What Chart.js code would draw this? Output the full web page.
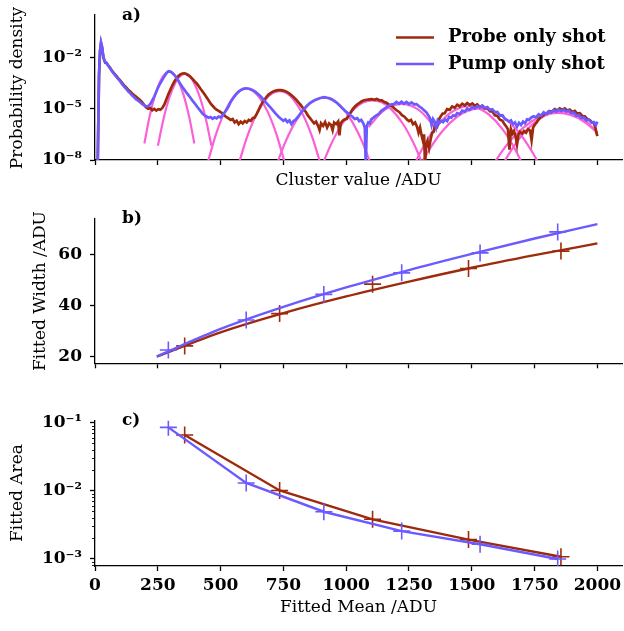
<!DOCTYPE html>
<html>
<head>
<meta charset="utf-8">
<script src="https://cdn.jsdelivr.net/npm/chart.js@4.4.1/dist/chart.umd.min.js"></script>
<style>
  html, body { margin: 0; padding: 0; background: #fff; }
  #wrap { position: relative; width: 624px; height: 631px; overflow: hidden; }
  canvas { position: absolute; left: 0; }
</style>
</head>
<body>
<div id="wrap">
  <canvas id="chartA" width="624" height="200" style="top:0px"></canvas>
  <canvas id="chartB" width="624" height="200" style="top:200px"></canvas>
  <canvas id="chartC" width="624" height="231" style="top:400px"></canvas>
</div>
<script>
// ---- panel a: histograms, [cluster value, log10 probability density] ----
const probeHist = [[10,-9.0],[16,-3.1],[20,-1.65],[24,-1.15],[28,-1.4],[32,-1.85],[36,-2.12],[41,-2.3],[46,-2.32],[52,-2.45],[60,-2.6],[68,-2.78],[76,-2.92],[84,-3.06],[92,-3.2],[100,-3.33],[108,-3.48],[116,-3.62],[124,-3.75],[132,-3.88],[140,-3.98],[148,-4.1],[156,-4.2],[164,-4.3],[172,-4.4],[180,-4.5],[188,-4.62],[196,-4.78],[204,-4.92],[212,-5.0],[220,-4.95],[228,-5.08],[236,-5.0],[244,-5.1],[252,-5.02],[260,-5.05],[268,-4.95],[276,-4.75],[284,-4.45],[292,-4.15],[300,-3.88],[308,-3.62],[316,-3.4],[324,-3.22],[332,-3.08],[340,-2.98],[348,-2.93],[356,-2.92],[364,-2.96],[372,-3.03],[380,-3.12],[388,-3.24],[396,-3.38],[404,-3.5],[412,-3.65],[420,-3.82],[428,-3.98],[436,-4.15],[444,-4.32],[452,-4.5],[460,-4.68],[468,-4.82],[476,-4.95],[484,-5.05],[492,-5.12],[500,-5.2],[510,-5.3],[520,-5.45],[530,-5.55],[540,-5.65],[548,-5.6],[556,-5.8],[564,-5.7],[572,-5.9],[580,-5.75],[588,-5.85],[596,-5.72],[604,-5.8],[612,-5.65],[620,-5.7],[628,-5.55],[636,-5.5],[644,-5.3],[652,-5.05],[660,-4.8],[670,-4.55],[680,-4.35],[690,-4.18],[700,-4.06],[710,-3.98],[720,-3.93],[730,-3.9],[740,-3.9],[750,-3.93],[760,-3.98],[770,-4.06],[780,-4.18],[790,-4.3],[800,-4.45],[810,-4.62],[820,-4.8],[830,-5.0],[840,-5.2],[848,-5.4],[856,-5.55],[864,-5.7],[872,-5.85],[880,-5.75],[888,-6.0],[894,-6.25],[900,-5.85],[908,-6.0],[916,-5.78],[924,-6.1],[932,-5.85],[940,-5.95],[946,-6.25],[952,-5.8],[960,-5.9],[968,-5.75],[973,-6.55],[978,-5.85],[986,-5.7],[994,-5.62],[1002,-5.6],[1010,-5.4],[1018,-5.2],[1026,-5.02],[1034,-4.88],[1042,-4.77],[1052,-4.66],[1062,-4.56],[1072,-4.5],[1082,-4.47],[1092,-4.45],[1102,-4.43],[1112,-4.47],[1122,-4.42],[1132,-4.5],[1142,-4.5],[1152,-4.6],[1162,-4.66],[1172,-4.78],[1182,-4.84],[1192,-4.98],[1202,-5.1],[1212,-5.2],[1222,-5.37],[1232,-5.46],[1242,-5.63],[1250,-5.72],[1258,-5.65],[1266,-5.9],[1274,-5.8],[1282,-6.05],[1288,-6.4],[1294,-6.1],[1300,-6.55],[1306,-6.9],[1310,-6.5],[1314,-8.3],[1318,-7.2],[1324,-6.9],[1330,-7.3],[1336,-6.8],[1342,-6.4],[1348,-6.35],[1354,-5.95],[1362,-6.05],[1368,-5.65],[1376,-5.45],[1384,-5.28],[1392,-5.26],[1402,-5.02],[1412,-5.06],[1422,-4.86],[1432,-4.94],[1442,-4.76],[1452,-4.86],[1462,-4.7],[1472,-4.8],[1482,-4.66],[1492,-4.78],[1502,-4.68],[1512,-4.82],[1522,-4.74],[1532,-4.9],[1542,-4.82],[1552,-4.98],[1562,-4.94],[1572,-5.14],[1582,-5.16],[1592,-5.38],[1602,-5.42],[1612,-5.64],[1622,-5.7],[1630,-5.9],[1638,-6.05],[1644,-6.2],[1650,-7.4],[1656,-6.2],[1662,-6.45],[1668,-6.3],[1674,-6.6],[1680,-7.1],[1686,-6.5],[1692,-6.35],[1700,-6.45],[1708,-6.3],[1716,-6.4],[1724,-6.2],[1732,-6.28],[1738,-6.85],[1744,-6.1],[1750,-5.95],[1758,-5.8],[1766,-5.62],[1774,-5.5],[1782,-5.4],[1790,-5.3],[1800,-5.26],[1810,-5.14],[1820,-5.16],[1830,-5.02],[1840,-5.1],[1850,-4.98],[1860,-5.06],[1870,-4.98],[1880,-5.1],[1890,-5.04],[1900,-5.18],[1910,-5.12],[1920,-5.28],[1930,-5.26],[1940,-5.42],[1950,-5.44],[1960,-5.6],[1970,-5.66],[1978,-5.78],[1986,-5.85],[1992,-6.1],[1996,-6.4],[2000,-6.6]];

const pumpHist = [[10,-9.0],[16,-3.0],[20,-1.6],[24,-1.1],[28,-1.35],[32,-1.8],[36,-2.1],[41,-2.28],[46,-2.3],[52,-2.45],[60,-2.62],[68,-2.8],[76,-2.95],[84,-3.1],[92,-3.25],[100,-3.38],[108,-3.55],[116,-3.7],[124,-3.82],[132,-3.98],[140,-4.08],[148,-4.22],[156,-4.32],[164,-4.45],[172,-4.52],[180,-4.62],[188,-4.72],[196,-4.78],[204,-4.86],[212,-4.84],[220,-4.72],[228,-4.5],[236,-4.28],[244,-4.0],[252,-3.72],[260,-3.5],[268,-3.3],[276,-3.1],[284,-2.92],[292,-2.8],[300,-2.82],[308,-2.9],[316,-3.02],[324,-3.18],[332,-3.35],[340,-3.55],[348,-3.72],[356,-3.88],[364,-4.05],[372,-4.2],[380,-4.35],[388,-4.52],[396,-4.66],[404,-4.82],[412,-4.98],[420,-5.12],[428,-5.28],[436,-5.38],[444,-5.45],[452,-5.52],[460,-5.48],[468,-5.58],[476,-5.5],[484,-5.56],[492,-5.45],[500,-5.5],[508,-5.38],[516,-5.22],[524,-5.05],[532,-4.85],[540,-4.6],[550,-4.38],[560,-4.18],[570,-4.02],[580,-3.9],[590,-3.82],[600,-3.8],[610,-3.81],[620,-3.85],[630,-3.92],[640,-4.02],[650,-4.14],[660,-4.28],[670,-4.45],[680,-4.62],[690,-4.78],[700,-4.95],[710,-5.12],[720,-5.3],[730,-5.45],[740,-5.58],[750,-5.7],[758,-5.62],[766,-5.78],[774,-5.68],[782,-5.9],[790,-5.72],[798,-5.65],[806,-5.5],[814,-5.35],[824,-5.15],[834,-4.98],[844,-4.82],[854,-4.68],[864,-4.58],[874,-4.5],[884,-4.44],[894,-4.38],[904,-4.34],[914,-4.32],[924,-4.35],[934,-4.38],[944,-4.45],[954,-4.55],[964,-4.66],[974,-4.8],[984,-4.95],[994,-5.1],[1004,-5.22],[1014,-5.35],[1024,-5.45],[1034,-5.6],[1044,-5.55],[1052,-5.72],[1060,-5.65],[1068,-5.85],[1074,-6.1],[1078,-8.4],[1082,-6.0],[1088,-5.8],[1094,-5.85],[1100,-5.62],[1110,-5.5],[1120,-5.38],[1130,-5.3],[1140,-5.12],[1150,-5.02],[1160,-4.92],[1170,-4.82],[1180,-4.74],[1190,-4.72],[1200,-4.6],[1210,-4.7],[1220,-4.58],[1230,-4.7],[1240,-4.6],[1250,-4.72],[1260,-4.62],[1270,-4.74],[1280,-4.72],[1290,-4.85],[1300,-4.95],[1310,-5.08],[1320,-5.22],[1328,-5.4],[1334,-5.55],[1340,-5.95],[1346,-5.6],[1352,-5.75],[1358,-6.1],[1364,-5.7],[1370,-5.85],[1378,-5.7],[1386,-5.78],[1394,-5.62],[1402,-5.72],[1410,-5.48],[1418,-5.52],[1426,-5.38],[1434,-5.42],[1442,-5.25],[1452,-5.3],[1462,-5.1],[1472,-5.16],[1482,-4.98],[1492,-5.06],[1502,-4.9],[1512,-4.98],[1522,-4.84],[1532,-4.92],[1542,-4.82],[1552,-4.95],[1562,-4.9],[1572,-5.06],[1582,-5.02],[1592,-5.2],[1602,-5.18],[1612,-5.4],[1622,-5.38],[1632,-5.6],[1640,-5.65],[1648,-5.75],[1656,-5.68],[1664,-5.9],[1672,-5.8],[1680,-6.05],[1688,-5.82],[1696,-5.95],[1704,-5.75],[1712,-5.85],[1720,-5.62],[1728,-5.65],[1736,-5.52],[1746,-5.44],[1756,-5.5],[1766,-5.32],[1776,-5.4],[1786,-5.2],[1796,-5.3],[1806,-5.14],[1816,-5.22],[1826,-5.08],[1836,-5.16],[1846,-5.04],[1856,-5.12],[1866,-5.04],[1876,-5.16],[1886,-5.1],[1896,-5.26],[1906,-5.22],[1916,-5.4],[1926,-5.36],[1936,-5.54],[1946,-5.5],[1956,-5.68],[1966,-5.64],[1976,-5.82],[1986,-5.78],[1994,-5.95],[2000,-5.75]];

// gaussian fits drawn on panel a (one list per peak, x and log10 density)
const fitArcX = [
  [196.6,216.9,239.5,262.1,279.0,296,313.0,329.9,352.5,375.1,395.4],
  [250.5,272.3,296.5,320.7,338.8,357,375.2,393.3,417.5,441.7,463.5],
  [451.1,481.9,516.2,550.5,576.3,602,627.7,653.5,687.8,722.1,752.9],
  [573.1,606.2,643,679.8,707.4,735,762.6,790.2,827,863.8,896.9],
  [716.1,756,800.2,844.5,877.8,911,944.2,977.5,1021.8,1066,1105.9],
  [893.8,937,985,1033,1069,1105,1141,1177,1225,1273,1316.2],
  [1089.2,1141.9,1181.5,1221,1260.5,1300.1,1352.8],
  [1247.6,1296.6,1351,1405.4,1446.2,1487,1527.8,1568.6,1623,1677.4,1726.4],
  [1266.8,1321.2,1381.7,1442.2,1487.6,1533,1578.4,1623.8,1684.3,1744.8,1799.2],
  [1585.7,1640.8,1702,1763.2,1809.1,1855,1900.9,1946.8,2000],
  [1539.7,1601.5,1670.2,1738.9,1790.5,1842,1893.5,1945.1,2000]
];
const fitArcLog = [
  [-7.03,-5.48,-4.18,-3.31,-2.94,-2.82,-2.94,-3.31,-4.18,-5.48,-7.03],
  [-7.17,-5.62,-4.32,-3.45,-3.09,-2.96,-3.09,-3.45,-4.32,-5.62,-7.17],
  [-8.02,-6.48,-5.18,-4.31,-3.94,-3.82,-3.94,-4.31,-5.18,-6.48,-8.02],
  [-8.17,-6.62,-5.32,-4.45,-4.08,-3.96,-4.08,-4.45,-5.32,-6.62,-8.17],
  [-8.56,-7.01,-5.71,-4.84,-4.48,-4.35,-4.48,-4.84,-5.71,-7.01,-8.56],
  [-8.71,-7.16,-5.86,-4.99,-4.62,-4.50,-4.62,-4.99,-5.86,-7.16,-8.71],
  [-6.07,-5.20,-4.84,-4.71,-4.84,-5.20,-6.07],
  [-9.06,-7.51,-6.21,-5.34,-4.98,-4.85,-4.98,-5.34,-6.21,-7.51,-9.06],
  [-9.17,-7.63,-6.33,-5.46,-5.09,-4.97,-5.09,-5.46,-6.33,-7.63,-9.17],
  [-9.36,-7.82,-6.51,-5.65,-5.28,-5.16,-5.28,-5.65,-6.38],
  [-9.44,-7.90,-6.60,-5.73,-5.36,-5.24,-5.36,-5.73,-6.39]
];

// ---- panels b and c: fitted parameters ----
const probeMean = [357, 735, 1105, 1487, 1855];
const probeWidth = [24.2, 36.8, 48.3, 54.4, 61.2];
const probeArea = [0.0659, 0.0101, 0.0038, 0.00191, 0.00107];
const pumpMean = [292, 602, 911, 1221, 1533, 1842];
const pumpWidth = [22.6, 34.3, 44.3, 52.7, 60.5, 68.7];
const pumpArea = [0.0855, 0.0130, 0.00491, 0.00255, 0.00163, 0.00099];

const widthFitX = [246, 500, 750, 1000, 1250, 1500, 1750, 2000];
const probeWidthFit = [20.0, 29.5, 37.0, 43.5, 49.3, 54.7, 59.6, 64.2];
const pumpWidthFit = [20.1, 30.8, 39.4, 47.0, 53.8, 60.1, 66.1, 71.7];

const xTicks = [0, 250, 500, 750, 1000, 1250, 1500, 1750, 2000];
const densityTicks = [1e-8, 1e-5, 1e-2];
const widthTicks = [20, 40, 60];
const areaTicks = [1e-3, 1e-2, 1e-1];

const RED = '#9d2a0c';
const BLUE = '#6a5aff';
const PINK = '#fb60d8';
const SERIF = '"DejaVu Serif", serif';

function pow10Label(v) {
  const sup = { '-': '\u207B', '0': '\u2070', '1': '\u00B9', '2': '\u00B2', '3': '\u00B3', '4': '\u2074', '5': '\u2075', '6': '\u2076', '7': '\u2077', '8': '\u2078', '9': '\u2079' };
  const e = String(Math.round(Math.log10(v)));
  return '10' + e.split('').map(c => sup[c]).join('');
}

function pts(xs, ys) { return xs.map((x, i) => ({ x: x, y: ys[i] })); }
function logPts(xs, ls) { return xs.map((x, i) => ({ x: x, y: Math.pow(10, ls[i]) })); }
function histPts(h) { return h.map(p => ({ x: p[0], y: Math.pow(10, p[1]) })); }

function xAxis(showLabels, h) {
  return {
    type: 'linear', min: 0, max: 2100,
    afterBuildTicks: s => { s.ticks = xTicks.map(v => ({ value: v })); },
    afterFit: s => { s.height = h; s.paddingLeft = 0; s.paddingRight = 0; },
    border: { color: '#000', width: 1.3 },
    grid: { drawOnChartArea: false, tickLength: 5, tickColor: '#000', tickWidth: 1.3 },
    ticks: { display: showLabels, color: '#000', padding: 4, maxRotation: 0, autoSkip: false,
             callback: v => String(v),
             font: { family: SERIF, size: 17, weight: 'bold' } }
  };
}

function yAxis(extra, tickList, labelFn) {
  return Object.assign({
    afterBuildTicks: s => { s.ticks = tickList.map(v => ({ value: v })); },
    afterFit: s => { s.width = 95; s.paddingTop = 0; s.paddingBottom = 0; },
    border: { color: '#000', width: 1.3 },
    grid: { drawOnChartArea: false, tickLength: 5, tickColor: '#000', tickWidth: 1.3 },
    ticks: { color: '#000', padding: 8, autoSkip: false, callback: labelFn,
             font: { family: SERIF, size: 17, weight: 'bold' } }
  }, extra);
}

function textPlugin(items) {
  return {
    id: 'texts',
    afterDraw(chart) {
      const ctx = chart.ctx;
      items.forEach(it => {
        ctx.save();
        ctx.fillStyle = '#000';
        ctx.font = (it.bold ? 'bold ' : '') + it.size + 'px ' + SERIF;
        ctx.textAlign = it.align || 'center';
        ctx.textBaseline = 'middle';
        ctx.translate(it.x, it.y);
        if (it.rot) ctx.rotate(it.rot);
        ctx.fillText(it.t, 0, 0);
        ctx.restore();
      });
    }
  };
}

const legendPlugin = {
  id: 'legendLines',
  afterDraw(chart) {
    const ctx = chart.ctx;
    [[RED, 'Probe only shot', 37.5], [BLUE, 'Pump only shot', 64]].forEach(([c, t, y]) => {
      ctx.save();
      ctx.strokeStyle = c; ctx.lineWidth = 2.6;
      ctx.beginPath(); ctx.moveTo(396, y); ctx.lineTo(434, y); ctx.stroke();
      ctx.fillStyle = '#000';
      ctx.font = 'bold 18px ' + SERIF;
      ctx.textAlign = 'left'; ctx.textBaseline = 'middle';
      ctx.fillText(t, 448, y);
      ctx.restore();
    });
  }
};

const minorTickPlugin = {
  id: 'minorTicks',
  afterDraw(chart) {
    const s = chart.scales.y, ctx = chart.ctx;
    ctx.save();
    ctx.strokeStyle = '#000'; ctx.lineWidth = 0.9;
    for (let e = -4; e <= -1; e++) {
      for (let k = 2; k <= 9; k++) {
        const v = k * Math.pow(10, e);
        if (v < s.min || v > s.max) continue;
        const y = Math.round(s.getPixelForValue(v)) + 0.5;
        ctx.beginPath(); ctx.moveTo(chart.chartArea.left - 3, y); ctx.lineTo(chart.chartArea.left, y); ctx.stroke();
      }
    }
    ctx.restore();
  }
};

Chart.defaults.animation = false;
Chart.defaults.font.family = SERIF;

const lineBase = { pointRadius: 0, tension: 0, fill: false };

// ---- panel a ----
const arcSets = fitArcX.map((xs, i) => Object.assign({}, lineBase, {
  label: 'fit' + i, data: logPts(xs, fitArcLog[i]), borderColor: PINK, borderWidth: 2.2,
  cubicInterpolationMode: 'monotone', order: 3
}));

new Chart(document.getElementById('chartA'), {
  type: 'line',
  data: {
    datasets: [
      Object.assign({}, lineBase, { label: 'Pump only shot', data: histPts(pumpHist), borderColor: BLUE, borderWidth: 2.7, order: 1 }),
      Object.assign({}, lineBase, { label: 'Probe only shot', data: histPts(probeHist), borderColor: RED, borderWidth: 2.7, order: 2 })
    ].concat(arcSets)
  },
  options: {
    responsive: false, devicePixelRatio: 1,
    layout: { autoPadding: false, padding: { left: 0, top: 15, right: 1.5, bottom: 0 } },
    plugins: { legend: { display: false }, tooltip: { enabled: false } },
    scales: {
      x: xAxis(false, 40),
      y: yAxis({ type: 'logarithmic', min: 1e-8, max: Math.pow(10, 0.5) }, densityTicks, v => pow10Label(v))
    }
  },
  plugins: [legendPlugin, textPlugin([
    { t: 'a)', x: 122, y: 16, size: 17, bold: true, align: 'left' },
    { t: 'Probability density', x: 18, y: 88, size: 17, rot: -Math.PI / 2 },
    { t: 'Cluster value /ADU', x: 358.5, y: 181, size: 17 }
  ])]
});

// ---- panel b ----
const markerBase = { showLine: false, pointStyle: 'cross', pointRadius: 8.5, pointBorderWidth: 1.6 };
new Chart(document.getElementById('chartB'), {
  type: 'line',
  data: {
    datasets: [
      Object.assign({}, markerBase, { label: 'pump', data: pts(pumpMean, pumpWidth), borderColor: BLUE, pointBorderColor: BLUE, order: 1 }),
      Object.assign({}, lineBase, { label: 'pump fit', data: pts(widthFitX, pumpWidthFit), borderColor: BLUE, borderWidth: 2.4, cubicInterpolationMode: 'monotone', order: 2 }),
      Object.assign({}, markerBase, { label: 'probe', data: pts(probeMean, probeWidth), borderColor: RED, pointBorderColor: RED, order: 3 }),
      Object.assign({}, lineBase, { label: 'probe fit', data: pts(widthFitX, probeWidthFit), borderColor: RED, borderWidth: 2.4, cubicInterpolationMode: 'monotone', order: 4 })
    ]
  },
  options: {
    responsive: false, devicePixelRatio: 1,
    layout: { autoPadding: false, padding: { left: 0, top: 18.3, right: 1.5, bottom: 0 } },
    plugins: { legend: { display: false }, tooltip: { enabled: false } },
    scales: {
      x: xAxis(false, 36.7),
      y: yAxis({ type: 'linear', min: 17.4, max: 74 }, widthTicks, v => String(v))
    }
  },
  plugins: [textPlugin([
    { t: 'b)', x: 122, y: 19, size: 17, bold: true, align: 'left' },
    { t: 'Fitted Width /ADU', x: 41, y: 91, size: 17, rot: -Math.PI / 2 }
  ])]
});

// ---- panel c ----
const areaLine = { showLine: true, pointStyle: 'cross', pointRadius: 8.5, pointBorderWidth: 1.6, borderWidth: 2.4, tension: 0, fill: false };
new Chart(document.getElementById('chartC'), {
  type: 'line',
  data: {
    datasets: [
      Object.assign({}, areaLine, { label: 'pump', data: pts(pumpMean, pumpArea), borderColor: BLUE, pointBorderColor: BLUE, order: 1 }),
      Object.assign({}, areaLine, { label: 'probe', data: pts(probeMean, probeArea), borderColor: RED, pointBorderColor: RED, order: 2 })
    ]
  },
  options: {
    responsive: false, devicePixelRatio: 1,
    layout: { autoPadding: false, padding: { left: 0, top: 20.7, right: 1.5, bottom: 0 } },
    plugins: { legend: { display: false }, tooltip: { enabled: false } },
    scales: {
      x: xAxis(true, 65),
      y: yAxis({ type: 'logarithmic', min: Math.pow(10, -3.107), max: Math.pow(10, -0.97) }, areaTicks, v => pow10Label(v))
    }
  },
  plugins: [minorTickPlugin, textPlugin([
    { t: 'c)', x: 122, y: 21, size: 17, bold: true, align: 'left' },
    { t: 'Fitted Area', x: 18, y: 93, size: 17, rot: -Math.PI / 2 },
    { t: 'Fitted Mean /ADU', x: 358.5, y: 208, size: 17 }
  ])]
});
</script>
</body>
</html>
